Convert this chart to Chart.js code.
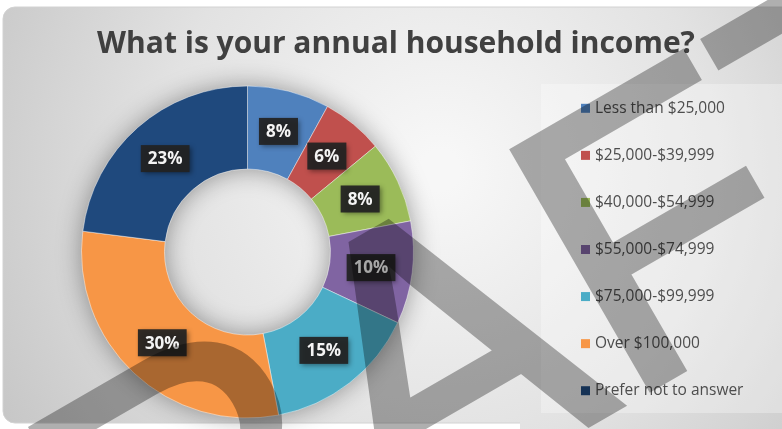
<!DOCTYPE html>
<html>
<head>
<meta charset="utf-8">
<title>Annual household income</title>
<script src="https://cdn.jsdelivr.net/npm/chart.js@4.4.0/dist/chart.umd.min.js"></script>
<style>
  html, body { margin: 0; padding: 0; background: #fff; overflow: hidden; }
  #wrap { position: relative; width: 782px; height: 429px; }
</style>
</head>
<body>
<div id="wrap"><canvas id="incomeChart"></canvas></div>
<script>
var chartTitle = "What is your annual household income?";
var incomeLabels = [
  "Less than $25,000",
  "$25,000-$39,999",
  "$40,000-$54,999",
  "$55,000-$74,999",
  "$75,000-$99,999",
  "Over $100,000",
  "Prefer not to answer"
];
var incomeShares = [8, 6, 8, 10, 15, 30, 23];
var sliceColors = ["#4f81bd", "#c0504d", "#9bbb59", "#8064a2", "#4bacc6", "#f79646", "#1f497d"];

// grey card behind everything, plus the title
const panelBackground = {
  id: 'panelBackground',
  beforeDraw(chart) {
    const ctx = chart.ctx;
    ctx.save();
    ctx.fillStyle = '#ffffff';
    ctx.fillRect(0, 0, chart.width, chart.height);

    const g = ctx.createRadialGradient(440, 170, 20, 440, 170, 540);
    g.addColorStop(0, '#f7f7f7');
    g.addColorStop(0.5, '#e2e2e2');
    g.addColorStop(1, '#c2c2c2');
    ctx.fillStyle = g;
    ctx.beginPath();
    ctx.roundRect(3, 7, 800, 416, 12);
    ctx.fill();
    ctx.strokeStyle = '#d2d2d2';
    ctx.lineWidth = 1;
    ctx.stroke();
    // card runs off the bottom edge on the right
    ctx.fillRect(520, 413, 262, 16);

    // lighter box under the legend
    ctx.fillStyle = 'rgba(255,255,255,0.3)';
    ctx.fillRect(541, 84, 241, 329);

    ctx.font = 'bold 30px "Open Sans"';
    ctx.fillStyle = '#404040';
    ctx.textAlign = 'center';
    ctx.textBaseline = 'alphabetic';
    ctx.fillText(chartTitle, 396, 53);
    ctx.restore();
  }
};

// soft shadow around the ring
const ringShadow = {
  id: 'ringShadow',
  beforeDatasetsDraw(chart) {
    const arc = chart.getDatasetMeta(0).data[0];
    if (!arc) return;
    const ctx = chart.ctx;
    ctx.save();
    ctx.shadowColor = 'rgba(0,0,0,0.4)';
    ctx.shadowBlur = 26;
    ctx.fillStyle = '#9a9a9a';
    ctx.beginPath();
    ctx.arc(arc.x, arc.y, arc.outerRadius - 1, 0, Math.PI * 2);
    ctx.arc(arc.x, arc.y, arc.innerRadius + 1, 0, Math.PI * 2, true);
    ctx.fill();
    ctx.restore();
  }
};

// dark value boxes in the middle of each slice
const sliceLabels = {
  id: 'sliceLabels',
  afterDatasetsDraw(chart) {
    const ctx = chart.ctx;
    const values = chart.data.datasets[0].data;
    ctx.save();
    ctx.font = 'bold 17px "Open Sans"';
    ctx.textAlign = 'center';
    ctx.textBaseline = 'middle';
    chart.getDatasetMeta(0).data.forEach((arc, i) => {
      const p = arc.getCenterPoint();
      const text = values[i] + '%';
      const w = ctx.measureText(text).width + 14;
      const h = 27;
      ctx.shadowColor = 'rgba(0,0,0,0.45)';
      ctx.shadowBlur = 5;
      ctx.shadowOffsetX = 2;
      ctx.shadowOffsetY = 2;
      ctx.fillStyle = 'rgba(34,34,34,0.93)';
      ctx.fillRect(p.x - w / 2, p.y - h / 2, w, h);
      ctx.shadowColor = 'transparent';
      ctx.fillStyle = '#f4f4f4';
      ctx.fillText(text, p.x, p.y + 1);
    });
    ctx.restore();
  }
};

// legend column on the right
const sideLegend = {
  id: 'sideLegend',
  afterDraw(chart) {
    const ctx = chart.ctx;
    const ds = chart.data.datasets[0];
    ctx.save();
    ctx.font = '15.5px "Open Sans"';
    ctx.textBaseline = 'middle';
    ctx.textAlign = 'left';
    chart.data.labels.forEach((label, i) => {
      const y = 108.3 + i * 47.07;
      ctx.fillStyle = ds.backgroundColor[i];
      ctx.fillRect(581, y - 4.5, 9, 9);
      ctx.fillStyle = '#4d4d4d';
      ctx.fillText(label, 595, y);
    });
    ctx.restore();
  }
};

// DRAFT stamp across the whole card, drawn solid on a layer then faded
const draftMark = {
  id: 'draftMark',
  afterDraw(chart) {
    const layer = document.createElement('canvas');
    layer.width = chart.width;
    layer.height = chart.height;
    const lc = layer.getContext('2d');
    lc.rotate(-Math.PI / 6);
    lc.font = '400px "Liberation Sans"';
    lc.fillStyle = '#000';
    lc.strokeStyle = '#000';
    lc.lineWidth = 6;
    lc.lineJoin = 'miter';
    lc.textBaseline = 'alphabetic';
    lc.fillText('DRAFT', -508, 662);
    lc.strokeText('DRAFT', -508, 662);

    const ctx = chart.ctx;
    ctx.save();
    ctx.globalAlpha = 0.31;
    ctx.drawImage(layer, 0, 0);
    ctx.restore();
  }
};

new Chart('incomeChart', {
  type: 'doughnut',
  data: {
    labels: incomeLabels,
    datasets: [{
      data: incomeShares,
      backgroundColor: sliceColors,
      borderColor: 'rgba(255,255,255,0.45)',
      borderWidth: 1
    }]
  },
  options: {
    responsive: true,
    maintainAspectRatio: false,
    animation: false,
    events: [],
    radius: 166,
    cutout: '50%',
    layout: {
      padding: { left: 81.5, right: 368.5, top: 86, bottom: 11 }
    },
    plugins: {
      legend: { display: false },
      title: { display: false },
      tooltip: { enabled: false }
    }
  },
  plugins: [panelBackground, ringShadow, sliceLabels, sideLegend, draftMark]
});
</script>
</body>
</html>
